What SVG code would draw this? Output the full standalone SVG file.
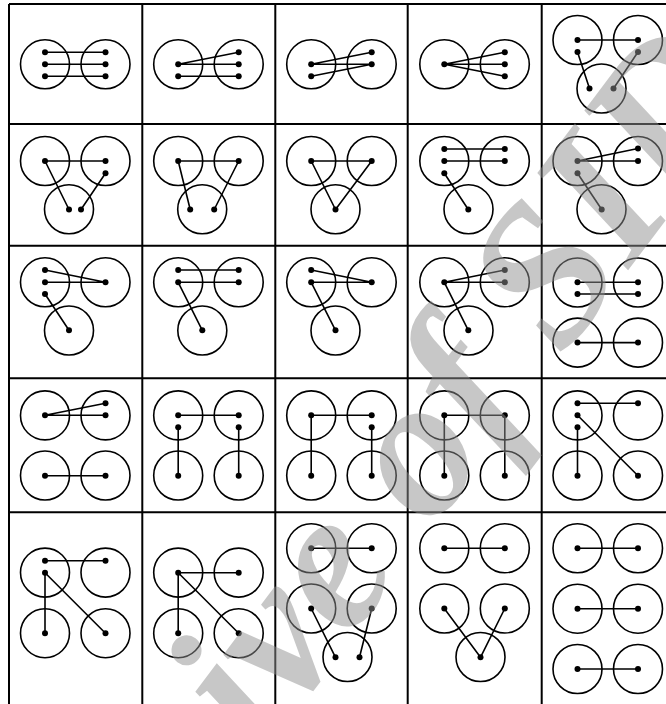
<svg xmlns="http://www.w3.org/2000/svg" width="666" height="704" viewBox="0 0 666 704">
<style>
.g{stroke:#000;stroke-width:2;fill:none}
.c{stroke:#000;stroke-width:1.6;fill:none}
.l{stroke:#000;stroke-width:1.6;fill:none}
.d{fill:#000}
.wm{font-family:"Liberation Serif",serif;font-style:italic;font-weight:bold;font-size:200px;fill:#909090;fill-opacity:0.5}
</style>
<rect width="666" height="704" fill="#fff"/>
<g id="grid">
<path class="g" d="M9,4V704M142.3,4V704M275.3,4V704M407.7,4V704M541.7,4V704M9,4H666M9,124H666M9,245.7H666M9,378.3H666M9,512.3H666"/>
</g>
<g id="connectors">
<path class="l" d="M45,52.3H105.5M45,64.3H105.5M45,76.3H105.5"/>
<path class="l" d="M178.2,64.3L238.7,52.3M178.2,64.3H238.7M178.2,76.3H238.7"/>
<path class="l" d="M311.2,64.3L371.7,52.3M311.2,64.3H371.7M311.2,76.3L371.7,64.3"/>
<path class="l" d="M444.3,64.3L504.8,52.3M444.3,64.3H504.8M444.3,64.3L504.8,76.3"/>
<path class="l" d="M577.5,40H638M577.5,52L589.5,88.5M638,52L613.5,88.5"/>
<path class="l" d="M45,161H105.5M45,161L69,209.5M105.5,173.3L81,209.5"/>
<path class="l" d="M178.2,161H238.7M178.2,161L190.2,209.5M238.7,161L214.2,209.5"/>
<path class="l" d="M311.2,161H371.7M311.2,161L335.5,209.5M371.7,161L335.5,209.5"/>
<path class="l" d="M444.3,149H504.8M444.3,161H504.8M444.3,173.3L468.3,209.5"/>
<path class="l" d="M577.5,161L638,148.5M577.5,161H638M577.5,173.3L601.7,209.5"/>
<path class="l" d="M45,270L105.5,282.3M45,282.3H105.5M45,294L69,330.3"/>
<path class="l" d="M178.2,270H238.7M178.2,282.3H238.7M178.2,282.3L202.3,330.3"/>
<path class="l" d="M311.2,270L371.7,282.3M311.2,282.3H371.7M311.2,282.3L335.5,330.3"/>
<path class="l" d="M444.3,282.3L504.8,270M444.3,282.3H504.8M444.3,282.3L468.3,330.3"/>
<path class="l" d="M577.5,282.3H638M577.5,294H638M577.5,342.6H638"/>
<path class="l" d="M45,415.3L105.5,403.3M45,415.3H105.5M45,475.7H105.5"/>
<path class="l" d="M178.2,415.3H238.7M178.2,427.3V475.7M238.7,427.3V475.7"/>
<path class="l" d="M311.2,415.3H371.7M311.2,415.3V475.7M371.7,427.3V475.7"/>
<path class="l" d="M444.3,415.3H504.8M444.3,415.3V475.7M504.8,415.3V475.7"/>
<path class="l" d="M577.5,403.3H638M577.5,415.3L638,475.7M577.5,427.3V475.7"/>
<path class="l" d="M45,560.7H105.5M45,572.7V633.3M45,572.7L105.5,633.3"/>
<path class="l" d="M178.2,572.7H238.7M178.2,572.7V633.3M178.2,572.7L238.7,633.3"/>
<path class="l" d="M311.2,548.3H371.7M311.2,608.5L335.5,657.3M371.7,608.5L359.5,657.3"/>
<path class="l" d="M444.3,548.3H504.8M444.3,608.5L480.5,657.3M504.8,608.5L480.5,657.3"/>
<path class="l" d="M577.5,548.3H638M577.5,608.7H638M577.5,669H638"/>
</g>
<g id="r1c1"><circle class="c" cx="45" cy="64.3" r="24.5"/><circle class="c" cx="105.5" cy="64.3" r="24.5"/>
<circle class="d" cx="45" cy="52.3" r="3"/><circle class="d" cx="45" cy="64.3" r="3"/><circle class="d" cx="45" cy="76.3" r="3"/><circle class="d" cx="105.5" cy="52.3" r="3"/><circle class="d" cx="105.5" cy="64.3" r="3"/><circle class="d" cx="105.5" cy="76.3" r="3"/></g>
<g id="r1c2"><circle class="c" cx="178.2" cy="64.3" r="24.5"/><circle class="c" cx="238.7" cy="64.3" r="24.5"/>
<circle class="d" cx="178.2" cy="64.3" r="3"/><circle class="d" cx="178.2" cy="76.3" r="3"/><circle class="d" cx="238.7" cy="52.3" r="3"/><circle class="d" cx="238.7" cy="64.3" r="3"/><circle class="d" cx="238.7" cy="76.3" r="3"/></g>
<g id="r1c3"><circle class="c" cx="311.2" cy="64.3" r="24.5"/><circle class="c" cx="371.7" cy="64.3" r="24.5"/>
<circle class="d" cx="311.2" cy="64.3" r="3"/><circle class="d" cx="311.2" cy="76.3" r="3"/><circle class="d" cx="371.7" cy="52.3" r="3"/><circle class="d" cx="371.7" cy="64.3" r="3"/></g>
<g id="r1c4"><circle class="c" cx="444.3" cy="64.3" r="24.5"/><circle class="c" cx="504.8" cy="64.3" r="24.5"/>
<circle class="d" cx="444.3" cy="64.3" r="3"/><circle class="d" cx="504.8" cy="52.3" r="3"/><circle class="d" cx="504.8" cy="64.3" r="3"/><circle class="d" cx="504.8" cy="76.3" r="3"/></g>
<g id="r1c5"><circle class="c" cx="577.5" cy="40" r="24.5"/><circle class="c" cx="638" cy="40" r="24.5"/><circle class="c" cx="601.5" cy="88.5" r="24.5"/>
<circle class="d" cx="577.5" cy="40" r="3"/><circle class="d" cx="577.5" cy="52" r="3"/><circle class="d" cx="638" cy="40" r="3"/><circle class="d" cx="638" cy="52" r="3"/><circle class="d" cx="589.5" cy="88.5" r="3"/><circle class="d" cx="613.5" cy="88.5" r="3"/></g>
<g id="r2c1"><circle class="c" cx="45" cy="161" r="24.5"/><circle class="c" cx="105.5" cy="161" r="24.5"/><circle class="c" cx="69" cy="209.3" r="24.5"/>
<circle class="d" cx="45" cy="161" r="3"/><circle class="d" cx="105.5" cy="161" r="3"/><circle class="d" cx="105.5" cy="173.3" r="3"/><circle class="d" cx="69" cy="209.5" r="3"/><circle class="d" cx="81" cy="209.5" r="3"/></g>
<g id="r2c2"><circle class="c" cx="178.2" cy="161" r="24.5"/><circle class="c" cx="238.7" cy="161" r="24.5"/><circle class="c" cx="202.2" cy="209.3" r="24.5"/>
<circle class="d" cx="178.2" cy="161" r="3"/><circle class="d" cx="238.7" cy="161" r="3"/><circle class="d" cx="190.2" cy="209.5" r="3"/><circle class="d" cx="214.2" cy="209.5" r="3"/></g>
<g id="r2c3"><circle class="c" cx="311.2" cy="161" r="24.5"/><circle class="c" cx="371.7" cy="161" r="24.5"/><circle class="c" cx="335.5" cy="209.3" r="24.5"/>
<circle class="d" cx="311.2" cy="161" r="3"/><circle class="d" cx="371.7" cy="161" r="3"/><circle class="d" cx="335.5" cy="209.5" r="3"/></g>
<g id="r2c4"><circle class="c" cx="444.3" cy="161" r="24.5"/><circle class="c" cx="504.8" cy="161" r="24.5"/><circle class="c" cx="468.5" cy="209.3" r="24.5"/>
<circle class="d" cx="444.3" cy="149" r="3"/><circle class="d" cx="444.3" cy="161" r="3"/><circle class="d" cx="444.3" cy="173.3" r="3"/><circle class="d" cx="504.8" cy="149" r="3"/><circle class="d" cx="504.8" cy="161" r="3"/><circle class="d" cx="468.3" cy="209.5" r="3"/></g>
<g id="r2c5"><circle class="c" cx="577.5" cy="161" r="24.5"/><circle class="c" cx="638" cy="161" r="24.5"/><circle class="c" cx="601.5" cy="209.3" r="24.5"/>
<circle class="d" cx="577.5" cy="161" r="3"/><circle class="d" cx="577.5" cy="173.3" r="3"/><circle class="d" cx="638" cy="148.5" r="3"/><circle class="d" cx="638" cy="161" r="3"/><circle class="d" cx="601.7" cy="209.5" r="3"/></g>
<g id="r3c1"><circle class="c" cx="45" cy="282.3" r="24.5"/><circle class="c" cx="105.5" cy="282.3" r="24.5"/><circle class="c" cx="69" cy="330.5" r="24.5"/>
<circle class="d" cx="45" cy="270" r="3"/><circle class="d" cx="45" cy="282.3" r="3"/><circle class="d" cx="45" cy="294" r="3"/><circle class="d" cx="105.5" cy="282.3" r="3"/><circle class="d" cx="69" cy="330.3" r="3"/></g>
<g id="r3c2"><circle class="c" cx="178.2" cy="282.3" r="24.5"/><circle class="c" cx="238.7" cy="282.3" r="24.5"/><circle class="c" cx="202.3" cy="330.5" r="24.5"/>
<circle class="d" cx="178.2" cy="270" r="3"/><circle class="d" cx="178.2" cy="282.3" r="3"/><circle class="d" cx="238.7" cy="270" r="3"/><circle class="d" cx="238.7" cy="282.3" r="3"/><circle class="d" cx="202.3" cy="330.3" r="3"/></g>
<g id="r3c3"><circle class="c" cx="311.2" cy="282.3" r="24.5"/><circle class="c" cx="371.7" cy="282.3" r="24.5"/><circle class="c" cx="335.5" cy="330.5" r="24.5"/>
<circle class="d" cx="311.2" cy="270" r="3"/><circle class="d" cx="311.2" cy="282.3" r="3"/><circle class="d" cx="371.7" cy="282.3" r="3"/><circle class="d" cx="335.5" cy="330.3" r="3"/></g>
<g id="r3c4"><circle class="c" cx="444.3" cy="282.3" r="24.5"/><circle class="c" cx="504.8" cy="282.3" r="24.5"/><circle class="c" cx="468.5" cy="330.5" r="24.5"/>
<circle class="d" cx="444.3" cy="282.3" r="3"/><circle class="d" cx="504.8" cy="270" r="3"/><circle class="d" cx="504.8" cy="282.3" r="3"/><circle class="d" cx="468.3" cy="330.3" r="3"/></g>
<g id="r3c5"><circle class="c" cx="577.5" cy="282.5" r="24.5"/><circle class="c" cx="638" cy="282.5" r="24.5"/><circle class="c" cx="577.5" cy="342.6" r="24.5"/><circle class="c" cx="638" cy="342.6" r="24.5"/>
<circle class="d" cx="577.5" cy="282.3" r="3"/><circle class="d" cx="577.5" cy="294" r="3"/><circle class="d" cx="638" cy="282.3" r="3"/><circle class="d" cx="638" cy="294" r="3"/><circle class="d" cx="577.5" cy="342.6" r="3"/><circle class="d" cx="638" cy="342.6" r="3"/></g>
<g id="r4c1"><circle class="c" cx="45" cy="415.4" r="24.5"/><circle class="c" cx="105.5" cy="415.4" r="24.5"/><circle class="c" cx="45" cy="475.5" r="24.5"/><circle class="c" cx="105.5" cy="475.5" r="24.5"/>
<circle class="d" cx="45" cy="415.3" r="3"/><circle class="d" cx="105.5" cy="403.3" r="3"/><circle class="d" cx="105.5" cy="415.3" r="3"/><circle class="d" cx="45" cy="475.7" r="3"/><circle class="d" cx="105.5" cy="475.7" r="3"/></g>
<g id="r4c2"><circle class="c" cx="178.2" cy="415.4" r="24.5"/><circle class="c" cx="238.7" cy="415.4" r="24.5"/><circle class="c" cx="178.2" cy="475.5" r="24.5"/><circle class="c" cx="238.7" cy="475.5" r="24.5"/>
<circle class="d" cx="178.2" cy="415.3" r="3"/><circle class="d" cx="178.2" cy="427.3" r="3"/><circle class="d" cx="238.7" cy="415.3" r="3"/><circle class="d" cx="238.7" cy="427.3" r="3"/><circle class="d" cx="178.2" cy="475.7" r="3"/><circle class="d" cx="238.7" cy="475.7" r="3"/></g>
<g id="r4c3"><circle class="c" cx="311.2" cy="415.4" r="24.5"/><circle class="c" cx="371.7" cy="415.4" r="24.5"/><circle class="c" cx="311.2" cy="475.5" r="24.5"/><circle class="c" cx="371.7" cy="475.5" r="24.5"/>
<circle class="d" cx="311.2" cy="415.3" r="3"/><circle class="d" cx="371.7" cy="415.3" r="3"/><circle class="d" cx="371.7" cy="427.3" r="3"/><circle class="d" cx="311.2" cy="475.7" r="3"/><circle class="d" cx="371.7" cy="475.7" r="3"/></g>
<g id="r4c4"><circle class="c" cx="444.3" cy="415.4" r="24.5"/><circle class="c" cx="504.8" cy="415.4" r="24.5"/><circle class="c" cx="444.3" cy="475.5" r="24.5"/><circle class="c" cx="504.8" cy="475.5" r="24.5"/>
<circle class="d" cx="444.3" cy="415.3" r="3"/><circle class="d" cx="504.8" cy="415.3" r="3"/><circle class="d" cx="444.3" cy="475.7" r="3"/><circle class="d" cx="504.8" cy="475.7" r="3"/></g>
<g id="r4c5"><circle class="c" cx="577.5" cy="415.4" r="24.5"/><circle class="c" cx="638" cy="415.4" r="24.5"/><circle class="c" cx="577.5" cy="475.5" r="24.5"/><circle class="c" cx="638" cy="475.5" r="24.5"/>
<circle class="d" cx="577.5" cy="403.3" r="3"/><circle class="d" cx="577.5" cy="415.3" r="3"/><circle class="d" cx="577.5" cy="427.3" r="3"/><circle class="d" cx="638" cy="403.3" r="3"/><circle class="d" cx="577.5" cy="475.7" r="3"/><circle class="d" cx="638" cy="475.7" r="3"/></g>
<g id="r5c1"><circle class="c" cx="45" cy="572.6" r="24.5"/><circle class="c" cx="105.5" cy="572.6" r="24.5"/><circle class="c" cx="45" cy="633.2" r="24.5"/><circle class="c" cx="105.5" cy="633.2" r="24.5"/>
<circle class="d" cx="45" cy="560.7" r="3"/><circle class="d" cx="45" cy="572.7" r="3"/><circle class="d" cx="105.5" cy="560.7" r="3"/><circle class="d" cx="45" cy="633.3" r="3"/><circle class="d" cx="105.5" cy="633.3" r="3"/></g>
<g id="r5c2"><circle class="c" cx="178.2" cy="572.6" r="24.5"/><circle class="c" cx="238.7" cy="572.6" r="24.5"/><circle class="c" cx="178.2" cy="633.2" r="24.5"/><circle class="c" cx="238.7" cy="633.2" r="24.5"/>
<circle class="d" cx="178.2" cy="572.7" r="3"/><circle class="d" cx="238.7" cy="572.7" r="3"/><circle class="d" cx="178.2" cy="633.3" r="3"/><circle class="d" cx="238.7" cy="633.3" r="3"/></g>
<g id="r5c3"><circle class="c" cx="311.2" cy="548.3" r="24.5"/><circle class="c" cx="371.7" cy="548.3" r="24.5"/><circle class="c" cx="311.2" cy="608.5" r="24.5"/><circle class="c" cx="371.7" cy="608.5" r="24.5"/><circle class="c" cx="347.5" cy="657" r="24.5"/>
<circle class="d" cx="311.2" cy="548.3" r="3"/><circle class="d" cx="371.7" cy="548.3" r="3"/><circle class="d" cx="311.2" cy="608.5" r="3"/><circle class="d" cx="371.7" cy="608.5" r="3"/><circle class="d" cx="335.5" cy="657.3" r="3"/><circle class="d" cx="359.5" cy="657.3" r="3"/></g>
<g id="r5c4"><circle class="c" cx="444.3" cy="548.3" r="24.5"/><circle class="c" cx="504.8" cy="548.3" r="24.5"/><circle class="c" cx="444.3" cy="608.5" r="24.5"/><circle class="c" cx="504.8" cy="608.5" r="24.5"/><circle class="c" cx="480.5" cy="657" r="24.5"/>
<circle class="d" cx="444.3" cy="548.3" r="3"/><circle class="d" cx="504.8" cy="548.3" r="3"/><circle class="d" cx="444.3" cy="608.5" r="3"/><circle class="d" cx="504.8" cy="608.5" r="3"/><circle class="d" cx="480.5" cy="657.3" r="3"/></g>
<g id="r5c5"><circle class="c" cx="577.5" cy="548.3" r="24.5"/><circle class="c" cx="638" cy="548.3" r="24.5"/><circle class="c" cx="577.5" cy="608.7" r="24.5"/><circle class="c" cx="638" cy="608.7" r="24.5"/><circle class="c" cx="577.5" cy="669" r="24.5"/><circle class="c" cx="638" cy="669" r="24.5"/>
<circle class="d" cx="577.5" cy="548.3" r="3"/><circle class="d" cx="638" cy="548.3" r="3"/><circle class="d" cx="577.5" cy="608.7" r="3"/><circle class="d" cx="638" cy="608.7" r="3"/><circle class="d" cx="577.5" cy="669" r="3"/><circle class="d" cx="638" cy="669" r="3"/></g>
<text class="wm" transform="translate(14,1085) rotate(-53)">Archive of SID</text>
</svg>
